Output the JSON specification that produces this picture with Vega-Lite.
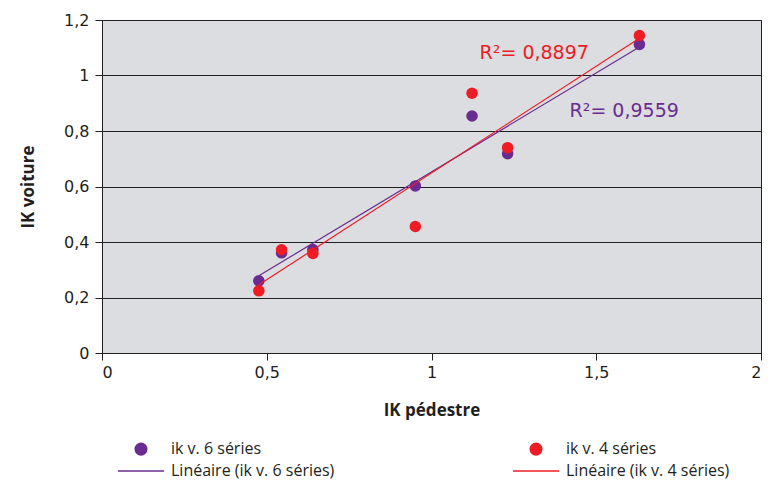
{
  "$schema": "https://vega.github.io/schema/vega-lite/v6.json",
  "width": 659,
  "height": 333,
  "autosize": {"type": "none"},
  "padding": {"left": 102, "top": 20, "right": 9, "bottom": 144},
  "background": "white",
  "config": {
    "font": "Open Sans",
    "view": {"fill": "#dcdde0", "stroke": "#231f20", "strokeWidth": 1},
    "axis": {
      "labelFont": "DejaVu Sans",
      "labelFontSize": 16,
      "labelColor": "#231f20",
      "domainColor": "#231f20",
      "tickColor": "#231f20",
      "tickSize": 7,
      "gridColor": "#231f20",
      "gridOpacity": 1,
      "gridWidth": 1,
      "titleFont": "Open Sans",
      "titleFontSize": 17,
      "titleFontWeight": "bold",
      "titleColor": "#231f20"
    },
    "legend": {
      "labelFont": "Open Sans",
      "labelFontSize": 16,
      "labelColor": "#231f20",
      "labelLimit": 400,
      "padding": 0
    }
  },
  "datasets": {
    "pts": [
      {"x": 0.476, "y": 0.26, "series": "ik v. 6 séries", "trend": "Linéaire (ik v. 6 séries)"},
      {"x": 0.545, "y": 0.361, "series": "ik v. 6 séries", "trend": "Linéaire (ik v. 6 séries)"},
      {"x": 0.64, "y": 0.373, "series": "ik v. 6 séries", "trend": "Linéaire (ik v. 6 séries)"},
      {"x": 0.951, "y": 0.602, "series": "ik v. 6 séries", "trend": "Linéaire (ik v. 6 séries)"},
      {"x": 1.123, "y": 0.854, "series": "ik v. 6 séries", "trend": "Linéaire (ik v. 6 séries)"},
      {"x": 1.231, "y": 0.718, "series": "ik v. 6 séries", "trend": "Linéaire (ik v. 6 séries)"},
      {"x": 1.631, "y": 1.112, "series": "ik v. 6 séries", "trend": "Linéaire (ik v. 6 séries)"},
      {"x": 0.476, "y": 0.224, "series": "ik v. 4 séries", "trend": "Linéaire (ik v. 4 séries)"},
      {"x": 0.545, "y": 0.372, "series": "ik v. 4 séries", "trend": "Linéaire (ik v. 4 séries)"},
      {"x": 0.64, "y": 0.359, "series": "ik v. 4 séries", "trend": "Linéaire (ik v. 4 séries)"},
      {"x": 0.951, "y": 0.456, "series": "ik v. 4 séries", "trend": "Linéaire (ik v. 4 séries)"},
      {"x": 1.123, "y": 0.936, "series": "ik v. 4 séries", "trend": "Linéaire (ik v. 4 séries)"},
      {"x": 1.231, "y": 0.74, "series": "ik v. 4 séries", "trend": "Linéaire (ik v. 4 séries)"},
      {"x": 1.631, "y": 1.144, "series": "ik v. 4 séries", "trend": "Linéaire (ik v. 4 séries)"}
    ],
    "notes": [
      {"x": 1.146, "y": 1.058, "label": "R²= 0,8897", "series": "ik v. 4 séries"},
      {"x": 1.419, "y": 0.851, "label": "R²= 0,9559", "series": "ik v. 6 séries"}
    ]
  },
  "layer": [
    {
      "data": {"name": "pts"},
      "mark": {"type": "point", "filled": true, "opacity": 1, "size": 133},
      "encoding": {
        "x": {
          "field": "x", "type": "quantitative", "title": "IK pédestre",
          "scale": {"domain": [0, 2], "nice": false, "zero": false},
          "axis": {"values": [0, 0.5, 1, 1.5, 2], "grid": false, "labelPadding": 4, "titlePadding": 22,
                   "labelExpr": "replace(format(datum.value, '.1~f'), '.', ',')"}
        },
        "y": {
          "field": "y", "type": "quantitative", "title": "IK voiture",
          "scale": {"domain": [0, 1.2], "nice": false, "zero": false},
          "axis": {"values": [0, 0.2, 0.4, 0.6, 0.8, 1, 1.2], "grid": true, "labelPadding": 6, "titlePadding": 26,
                   "labelExpr": "replace(format(datum.value, '.1~f'), '.', ',')"}
        },
        "color": {
          "field": "series", "type": "nominal",
          "scale": {
            "domain": ["ik v. 6 séries", "Linéaire (ik v. 6 séries)", "ik v. 4 séries", "Linéaire (ik v. 4 séries)"],
            "range": ["#6a2c91", "#6a2c91", "#ee1c25", "#ee1c25"]
          },
          "legend": {
            "title": null,
            "orient": "none",
            "legendX": 31,
            "legendY": 421,
            "columns": 2,
            "columnPadding": 174,
            "rowPadding": 5,
            "symbolSize": 133,
            "labelOffset": 22,
            "encode": {
              "symbols": {"update": {"stroke": {"scale": "color", "field": "value"}, "strokeWidth": {"value": 1.3}, "fill": {"scale": "color", "field": "value"}}}
            }
          }
        },
        "shape": {
          "field": "series", "type": "nominal",
          "scale": {
            "domain": ["ik v. 6 séries", "Linéaire (ik v. 6 séries)", "ik v. 4 séries", "Linéaire (ik v. 4 séries)"],
            "range": ["circle", "M-4,0H4", "circle", "M-4,0H4"]
          },
          "legend": {
            "title": null,
            "orient": "none",
            "legendX": 31,
            "legendY": 421,
            "columns": 2,
            "columnPadding": 174,
            "rowPadding": 5,
            "symbolSize": 133,
            "labelOffset": 22
          }
        }
      }
    },
    {
      "data": {"name": "pts"},
      "transform": [{"regression": "y", "on": "x", "groupby": ["trend"]}],
      "mark": {"type": "line", "strokeWidth": 1.2},
      "encoding": {
        "x": {"field": "x", "type": "quantitative"},
        "y": {"field": "y", "type": "quantitative"},
        "color": {"field": "trend", "type": "nominal"}
      }
    },
    {
      "data": {"name": "notes"},
      "mark": {"type": "text", "align": "left", "baseline": "alphabetic", "fontSize": 19, "font": "DejaVu Sans"},
      "encoding": {
        "x": {"field": "x", "type": "quantitative"},
        "y": {"field": "y", "type": "quantitative"},
        "text": {"field": "label"},
        "color": {"field": "series", "type": "nominal"}
      }
    }
  ]
}
